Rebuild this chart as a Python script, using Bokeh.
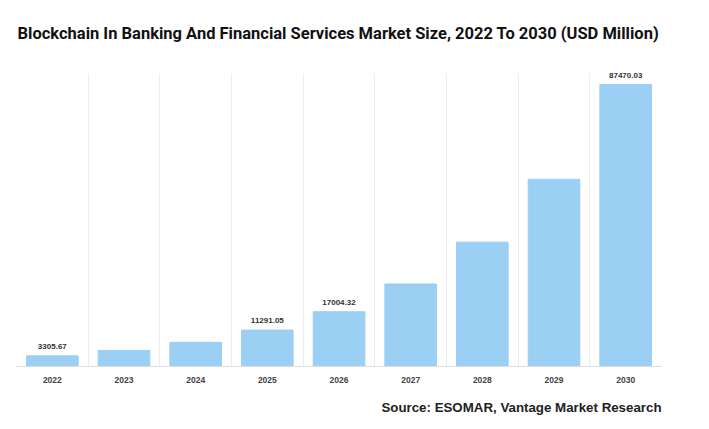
from bokeh.plotting import figure
from bokeh.models import ColumnDataSource, FixedTicker, Range1d, Label, Title, BoxAnnotation
from bokeh.core.properties import value
from bokeh.embed import file_html
from bokeh.resources import INLINE

years = [2022, 2023, 2024, 2025, 2026, 2027, 2028, 2029, 2030]
market_size = [3305.67, 4980, 7500, 11291.05, 17004.32, 25610, 38570, 58080, 87470.03]
shown_labels = ["3305.67", "", "", "11291.05", "17004.32", "", "", "", "87470.03"]

src = ColumnDataSource(dict(x=years, top=market_size, lab=shown_labels))

chart_top = 90900      # top of the gridded area
view_top = 108900      # extra room above for the title

p = figure(frame_width=645, frame_height=351, output_backend="svg", toolbar_location=None,
           x_range=Range1d(years[0] - 0.5, years[-1] + 0.5),
           y_range=Range1d(0, view_top),
           min_border_left=16, min_border_right=32, min_border_top=15, min_border_bottom=0)
p.outline_line_color = None
p.background_fill_color = "white"

bounds = [y - 0.5 for y in years] + [years[-1] + 0.5]
p.xgrid.ticker = FixedTicker(ticks=bounds)
p.xgrid.grid_line_color = "#ececec"
p.ygrid.visible = False

# hide grid above the chart area (title zone)
p.add_layout(BoxAnnotation(bottom=chart_top, fill_color="white", fill_alpha=1.0,
                           line_alpha=0, level="underlay"))

p.vbar(x="x", top="top", width=0.72, source=src, fill_color="#9BCFF3",
       line_color="#9BCFF3", line_width=1)
p.text(x="x", y="top", text="lab", source=src, y_offset=-7,
       text_align="center", text_baseline="bottom", text_font=value("Liberation Sans"),
       text_font_size="8px", text_font_style="bold", text_color="#333333")

p.yaxis.visible = False

p.xaxis.ticker = FixedTicker(ticks=years)
p.xaxis.major_tick_line_color = None
p.xaxis.minor_tick_line_color = None
p.xaxis.axis_line_color = "#dddddd"
p.xaxis.major_label_text_font = "Liberation Sans"
p.xaxis.major_label_text_font_size = "8.5px"
p.xaxis.major_label_text_font_style = "bold"
p.xaxis.major_label_text_color = "#444444"
p.xaxis.major_label_standoff = 4

title = Label(x=1, y=333, x_units="screen", y_units="screen",
              text="Blockchain In Banking And Financial Services Market Size, 2022 To 2030 (USD Million)",
              text_font="Roboto", text_font_size="16.5px", text_font_style="bold",
              text_color="#111111", text_align="left", text_baseline="middle")
p.add_layout(title)

p.add_layout(Title(text="Source: ESOMAR, Vantage Market Research", align="right",
                   text_font="Liberation Sans", text_font_size="13.3px",
                   text_font_style="bold", text_color="#222222", standoff=25), "below")

open("out.html", "w").write(file_html(p, INLINE))
